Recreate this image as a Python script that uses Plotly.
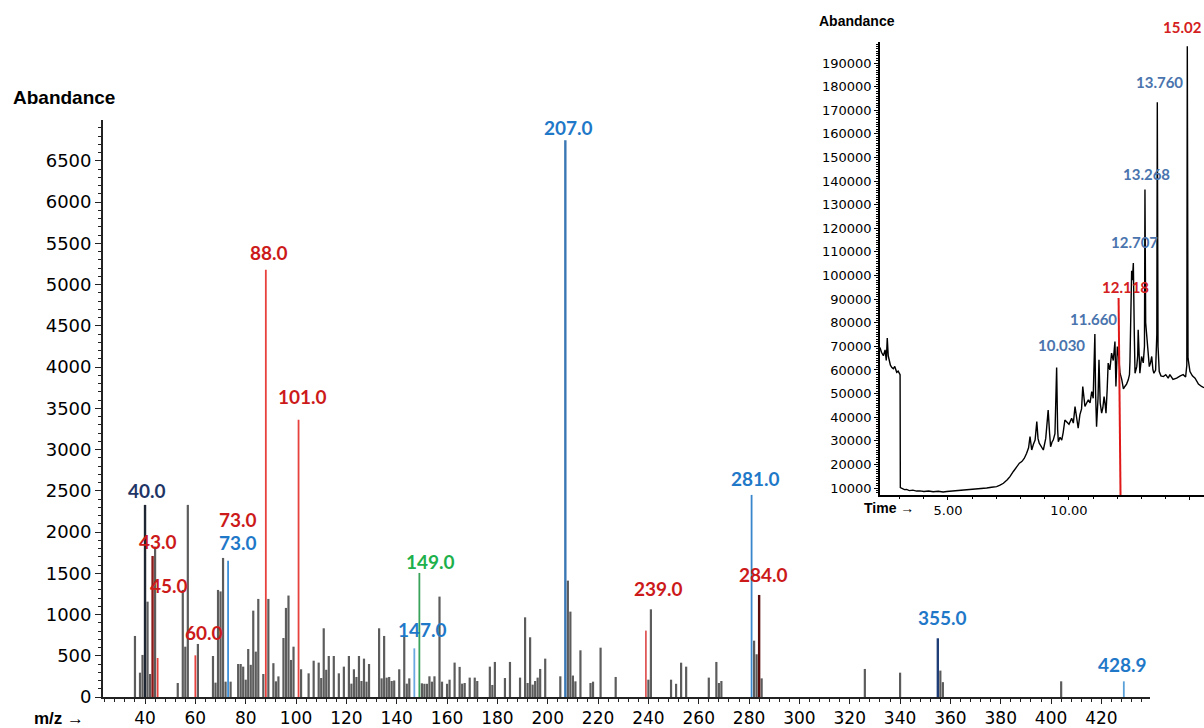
import plotly.graph_objects as go

W, H = 1204, 728

# ---------------- main mass spectrum: plain (grey) peaks ----------------
mz = [36, 38, 39, 41, 42, 44, 53, 55, 56, 57,
      61, 67, 68, 69, 70, 71, 72, 74, 77, 78,
      79, 80, 81, 82, 83, 84, 85, 87, 89, 91,
      92, 93, 95, 96, 97, 98, 99, 102, 105, 107,
      109, 110, 111, 112, 113, 115, 117, 119, 121, 122,
      123, 124, 125, 126, 127, 128, 129, 133, 134, 135,
      136, 137, 138, 139, 141, 143, 144, 145, 150, 151,
      152, 153, 154, 155, 157, 158, 160, 161, 163, 165,
      166, 167, 169, 171, 172, 177, 178, 179, 183, 185,
      189, 191, 192, 193, 194, 195, 196, 197, 199, 205,
      208, 209, 210, 211, 213, 217, 218, 221, 227, 240,
      241, 249, 251, 253, 255, 264, 267, 268, 269, 282,
      283, 285, 326, 340, 356, 357, 404]
abund = [740, 295, 510, 1156, 279, 1823, 170, 1298, 610, 2329,
         643, 497, 174, 1298, 1280, 1686, 186, 186, 400, 400,
         368, 210, 582, 390, 1047, 550, 1189, 279, 1189, 410,
         190, 250, 715, 1080, 1230, 449, 610, 336, 287, 440,
         417, 230, 833, 330, 497, 497, 287, 368, 497, 162,
         336, 243, 497, 194, 465, 186, 400, 833, 226, 740,
         235, 243, 194, 200, 336, 740, 162, 226, 166, 160,
         160, 251, 186, 251, 1217, 186, 160, 210, 417, 365,
         162, 170, 235, 235, 194, 368, 146, 425, 230, 425,
         235, 966, 170, 724, 150, 194, 235, 340, 465, 251,
         1411, 1035, 260, 190, 566, 170, 186, 598, 243, 210,
         1063, 210, 160, 416, 368, 235, 425, 170, 194, 683,
         518, 226, 340, 295, 320, 180, 190]

# ---------------- highlighted peaks ----------------
hl_mz = [40, 43, 45, 60, 73, 88, 101, 147, 149, 207, 239, 281, 284, 355, 428.9]
hl_abund = [2329, 1710, 473, 505, 1653, 5180, 3360, 590, 1504, 6750, 805, 2450, 1237, 712, 190]
hl_color = ["#1e2533", "#8b1a1a", "#e8423f", "#e8423f", "#3c8fd8", "#e8423f", "#e8423f",
            "#6aa8e0", "#3aa35a", "#3a78b5", "#e05a5a", "#3a86cc", "#5a0a0a", "#1f3e78", "#5aa0d8"]

# peak labels
lbl_text = ["207.0", "88.0", "101.0", "40.0", "43.0", "45.0", "60.0", "73.0", "73.0",
            "149.0", "147.0", "239.0", "281.0", "284.0", "355.0", "428.9"]
RED, BLUE, NAVY, GREEN = "#cc1a1a", "#1f78c8", "#1f3566", "#1db04b"
lbl_color = [BLUE, RED, RED, NAVY, RED, RED, RED, RED, BLUE,
             GREEN, BLUE, RED, BLUE, RED, BLUE, BLUE]

# y-tick values
y_ticks = list(range(0, 7000, 500))

# ---------------- inset: total ion chromatogram ----------------
tic_time = [2.19, 2.25, 2.33, 2.40, 2.45, 2.49, 2.53, 2.57, 2.62, 2.68,
            2.74, 2.80, 2.88, 2.94, 2.99, 3.02, 3.03, 3.10, 3.20, 3.29,
            3.40, 3.55, 3.70, 3.84, 4.00, 4.20, 4.39, 4.60, 4.80, 4.95,
            5.20, 5.50, 5.75, 6.05, 6.30, 6.60, 6.80, 7.01, 7.15, 7.29,
            7.45, 7.56, 7.70, 7.84, 7.95, 8.05, 8.15, 8.25, 8.33, 8.39,
            8.46, 8.53, 8.60, 8.67, 8.72, 8.77, 8.85, 8.94, 9.04, 9.14,
            9.20, 9.24, 9.30, 9.35, 9.42, 9.49, 9.53, 9.56, 9.63, 9.70,
            9.76, 9.83, 9.90, 10.00, 10.11, 10.18, 10.25, 10.31, 10.38, 10.45,
            10.52, 10.57, 10.62, 10.66, 10.73, 10.80, 10.87, 10.94, 11.00, 11.07,
            11.10, 11.14, 11.20, 11.24, 11.29, 11.35, 11.40, 11.45, 11.50, 11.53,
            11.58, 11.62, 11.69, 11.76, 11.83, 11.90, 11.94, 12.00, 12.05, 12.11,
            12.18, 12.25, 12.31, 12.38, 12.45, 12.50, 12.52, 12.56, 12.59, 12.62,
            12.66, 12.70, 12.73, 12.80, 12.84, 12.86, 12.89, 12.93, 13.00, 13.07,
            13.12, 13.14, 13.17, 13.21, 13.27, 13.32, 13.37, 13.42, 13.47, 13.51,
            13.58, 13.63, 13.65, 13.68, 13.73, 13.80, 13.90, 14.00, 14.10, 14.17,
            14.30, 14.45, 14.60, 14.72, 14.82, 14.87, 14.89, 14.92, 15.00, 15.10,
            15.21, 15.35, 15.48, 15.58]
tic_abund = [69500, 67500, 66000, 68500, 64000, 73500, 66000, 63500, 62000, 61000,
             60500, 61500, 59000, 59500, 58500, 58000, 10200, 9700, 9300, 9400,
             8900, 9100, 8700, 8800, 8500, 8700, 8400, 8600, 8300, 8500,
             8700, 8900, 9300, 9400, 9700, 10000, 10300, 10600, 11200, 12000,
             13500, 14800, 17000, 19000, 20500, 21200, 22500, 24700, 27000, 31800,
             26100, 28500, 30300, 38100, 31000, 29000, 27500, 26100, 31000, 43000,
             33000, 27500, 29500, 30300, 33000, 61000, 35000, 29600, 31500, 30300,
             33500, 38800, 38100, 37000, 39500, 37500, 44500, 40000, 35300, 41000,
             43500, 53000, 47000, 44500, 46000, 47300, 46000, 50800, 48000, 75200,
             50000, 36000, 48000, 64300, 46000, 41700, 44000, 48700, 45000, 41700,
             52000, 62900, 60000, 67100, 64000, 72000, 53000, 69900, 66000, 58600,
             56000, 52000, 53000, 54000, 55800, 58000, 63600, 80000, 102000, 98000,
             105300, 75000, 58600, 61400, 66000, 77000, 64000, 58600, 65700, 63000,
             70000, 136400, 80000, 75600, 66000, 61400, 63000, 65700, 60000, 58600,
             60000, 75000, 173400, 70000, 59300, 57500, 57200, 58000, 56500, 58000,
             56000, 56500, 57500, 58000, 57000, 62000, 197100, 65000, 59300, 57500,
             56500, 54000, 53000, 52500]
marker_time = [12.05, 12.13]
marker_abund = [90500, 7035]

inset_lbl_text = ["15.02", "13.760", "13.268", "12.707", "12.118", "11.660", "10.030"]
IBLUE, IRED = "#4a74ad", "#d42020"
inset_lbl_color = [IRED, IBLUE, IBLUE, IBLUE, IRED, IBLUE, IBLUE]


def stems(xv, yv):
    xs, ys = [], []
    for x, y in zip(xv, yv):
        xs += [x, x, None]
        ys += [0, y, None]
    return xs, ys


fig = go.Figure()
sx, sy = stems(mz, abund)
fig.add_trace(go.Scatter(x=sx, y=sy, mode="lines", line=dict(color="#5c5c5c", width=2.2),
                         xaxis="x", yaxis="y", hoverinfo="skip", showlegend=False))
for m, a, c in zip(hl_mz, hl_abund, hl_color):
    w = 2.4 if m in (40, 43, 207, 284, 355) else 1.8
    px_, py_ = stems([m], [a])
    fig.add_trace(go.Scatter(x=px_, y=py_, mode="lines", line=dict(color=c, width=w),
                             xaxis="x", yaxis="y", hoverinfo="skip", showlegend=False))

fig.add_trace(go.Scatter(x=tic_time, y=tic_abund, mode="lines", line=dict(color="black", width=1.4),
                         xaxis="x2", yaxis="y2", hoverinfo="skip", showlegend=False))
fig.add_trace(go.Scatter(x=marker_time, y=marker_abund, mode="lines", line=dict(color="#e01818", width=2),
                         xaxis="x2", yaxis="y2", hoverinfo="skip", showlegend=False))


def P(px, py):
    return px / W, 1 - py / H


annotations = []
# main peak labels (centre pixel positions)
lbl_pos = [(568, 127), (269, 252), (302, 397), (147, 490), (158, 541), (169, 585), (204, 632),
           (238, 519), (238, 542), (430, 561), (422, 629), (658, 588), (755, 478), (763, 574),
           (942, 617), (1122, 664)]
for t, c, (px, py) in zip(lbl_text, lbl_color, lbl_pos):
    x, y = P(px, py)
    annotations.append(dict(x=x, y=y, xref="paper", yref="paper", text="<b>%s</b>" % t,
                            showarrow=False, xanchor="center", yanchor="middle",
                            font=dict(family="Lato", size=19, color=c)))

inset_pos = [(1204, 27, "right"), (1159, 82, "center"), (1146, 174, "center"), (1134, 242, "center"),
             (1125, 287, "center"), (1093, 319, "center"), (1061, 345, "center")]
for t, c, (px, py, xa) in zip(inset_lbl_text, inset_lbl_color, inset_pos):
    x, y = P(px, py)
    annotations.append(dict(x=x, y=y, xref="paper", yref="paper", text="<b>%s</b>" % t,
                            showarrow=False, xanchor=xa, yanchor="middle",
                            font=dict(family="Lato", size=15, color=c)))

for txt, px, py, size, xa in [("<b>Abandance</b>", 11, 98, 19, "left"),
                              ("<b>Abandance</b>", 817, 21, 14, "left"),
                              ("<b>Time →</b>", 862, 508, 14, "left"),
                              ("<b>m/z →</b>", 32, 718, 17, "left")]:
    x, y = P(px, py)
    annotations.append(dict(x=x, y=y, xref="paper", yref="paper", text=txt, showarrow=False,
                            xanchor=xa, yanchor="middle",
                            font=dict(family="Liberation Sans", size=size, color="black")))

tickfont_main = dict(family="DejaVu Sans", size=18, color="black")
tickfont_x = dict(family="DejaVu Sans", size=17, color="black")
tickfont_inset = dict(family="DejaVu Sans", size=13, color="black")

fig.update_layout(
    width=W, height=H,
    margin=dict(l=0, r=0, t=0, b=0),
    paper_bgcolor="white", plot_bgcolor="rgba(0,0,0,0)",
    showlegend=False,
    annotations=annotations,
    xaxis=dict(domain=[103 / W, 1150 / W], range=[23.3, 439.3], anchor="y",
               showline=True, linecolor="#222", linewidth=1.5, mirror=False,
               ticks="outside", ticklen=5, tickwidth=1.3, tickcolor="#222",
               tick0=0, dtick=20, tickfont=tickfont_x,
               minor=dict(dtick=4, tick0=0, ticks="outside", ticklen=3, tickcolor="#222", tickwidth=1),
               showgrid=False, zeroline=False, automargin=False, fixedrange=True),
    yaxis=dict(domain=[1 - 697 / H, 1 - 120 / H], range=[0, 6995], anchor="x",
               showline=True, linecolor="#222", linewidth=1.8,
               ticks="outside", ticklen=6, tickwidth=1.3, tickcolor="#222",
               tickmode="array", tickvals=y_ticks, tickfont=tickfont_main,
               minor=dict(dtick=100, tick0=0, ticks="outside", ticklen=3, tickcolor="#222", tickwidth=1),
               showgrid=False, zeroline=False, automargin=False, fixedrange=True),
    xaxis2=dict(domain=[880 / W, 1.0], range=[2.19, 15.58], anchor="y2",
                showline=True, linecolor="black", linewidth=1.5,
                ticks="outside", ticklen=3, tickcolor="black",
                tick0=0, dtick=5, tickformat=".2f", tickfont=tickfont_inset,
                minor=dict(dtick=1, tick0=0, ticks="outside", ticklen=2, tickcolor="black"),
                showgrid=False, zeroline=False, automargin=False, fixedrange=True),
    yaxis2=dict(domain=[1 - 495 / H, 1 - 42 / H], range=[7035, 198900], anchor="x2",
                showline=True, linecolor="black", linewidth=1.5,
                ticks="outside", ticklen=4, tickcolor="black",
                tick0=0, dtick=10000, tickformat="d", tickfont=tickfont_inset,
                minor=dict(dtick=1000, tick0=0, ticks="outside", ticklen=2, tickcolor="black"),
                showgrid=False, zeroline=False, automargin=False, fixedrange=True),
)

fig.write_html("out.html", config={"displayModeBar": False},
               post_script="document.body.style.margin='0px';document.body.style.overflow='hidden';")
